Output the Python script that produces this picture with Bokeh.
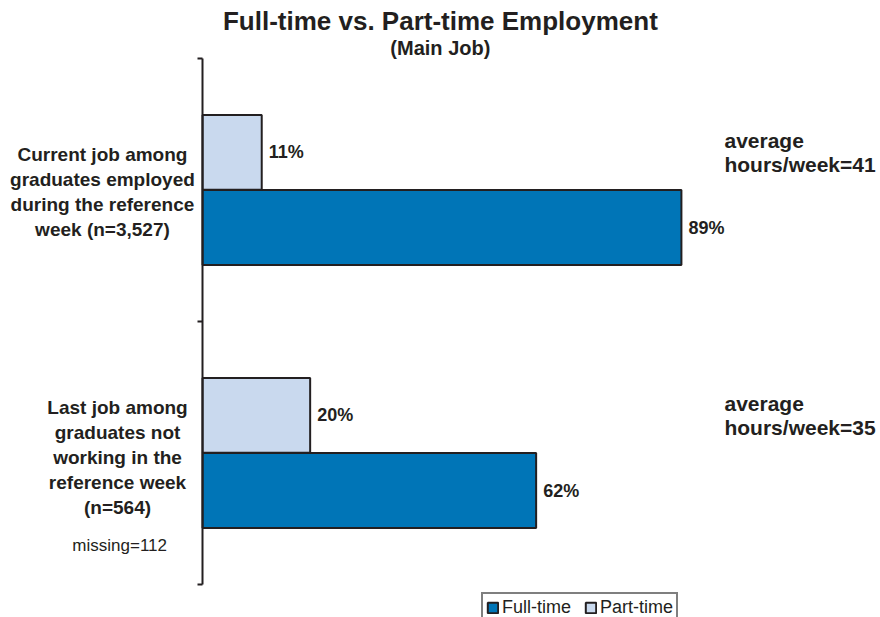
from bokeh.plotting import figure
from bokeh.models import (Range1d, LinearAxis, FixedTicker, Legend, LegendItem,
                          ColumnDataSource)
from bokeh.core.properties import value
from bokeh.embed import file_html
from bokeh.resources import INLINE

# ---------------- data ----------------
categories = [
    "Current job among\ngraduates employed\nduring the reference\nweek (n=3,527)",
    "Last job among\ngraduates not\nworking in the\nreference week\n(n=564)",
]
full_time = [89, 62]
part_time = [11, 20]
avg_hours = [41, 35]
series_names = ["Full-time", "Part-time"]
title_text = "Full-time vs. Part-time Employment"
subtitle_text = "(Main Job)"
missing_text = "missing=112"

FONT = "Liberation Sans"
C_FULL = "#0075B7"
C_PART = "#C9D9EE"
C_LINE = "#231F20"

n = len(categories)
centers = [n - i - 0.5 for i in range(n)]   # first category on top
off = 0.143
bar_h = 0.285

src_full = ColumnDataSource(dict(
    y=[c - off for c in centers], v=full_time,
    t=[f"{v}%" for v in full_time]))
src_part = ColumnDataSource(dict(
    y=[c + off for c in centers], v=part_time,
    t=[f"{v}%" for v in part_time]))
src_avg = ColumnDataSource(dict(
    y=[c + off for c in centers], x=[97.0] * n,
    t=[f"average\nhours/week={h}" for h in avg_hours]))
src_cat = ColumnDataSource(dict(
    y=[centers[0] - 0.008, centers[1] - 0.017], x=[-18.6, -15.8], t=categories))

p = figure(width=880, height=617, output_backend="svg", toolbar_location=None,
           x_range=Range1d(-37.55, 126.0), y_range=Range1d(-0.1255, 2.2205),
           x_axis_location=None, y_axis_location=None,
           min_border_left=0, min_border_right=0, min_border_top=0,
           min_border_bottom=0)
p.outline_line_color = None
p.background_fill_color = "white"
p.border_fill_color = "white"
p.grid.visible = False

ticks = list(range(n + 1))
yaxis = LinearAxis(ticker=FixedTicker(ticks=ticks), bounds=(0, n),
                   fixed_location=0,
                   major_label_overrides={t: "" for t in ticks},
                   major_label_standoff=0,
                   major_tick_out=5, major_tick_in=0,
                   minor_tick_out=0, minor_tick_in=0,
                   axis_line_width=2, axis_line_color=C_LINE,
                   major_tick_line_width=2, major_tick_line_color=C_LINE)
p.add_layout(yaxis, "left")

r_full = p.hbar(y="y", left=0, right="v", height=bar_h, source=src_full,
                fill_color=C_FULL, line_color=C_LINE, line_width=2)
r_part = p.hbar(y="y", left=0, right="v", height=bar_h, source=src_part,
                fill_color=C_PART, line_color=C_LINE, line_width=2)

for s in (src_full, src_part):
    p.text(x="v", y="y", text="t", source=s, x_offset=7, text_baseline="middle",
           text_align="left", text_font=value(FONT), text_font_style="bold",
           text_font_size="18px", text_color=C_LINE)

p.text(x="x", y="y", text="t", source=src_avg, text_baseline="middle",
       text_align="left", text_font=value(FONT), text_font_style="bold",
       text_font_size="21px", text_color=C_LINE, text_line_height=1.05)

p.text(x="x", y="y", text="t", source=src_cat, text_baseline="middle",
       text_align="center", text_font=value(FONT), text_font_style="bold",
       text_font_size="19px", text_color=C_LINE, text_line_height=1.2)

p.text(x=[-15.4], y=[0.148], text=[missing_text], text_align="center",
       text_baseline="middle", text_font=value(FONT), text_font_size="17px",
       text_color=C_LINE)

p.text(x=[44.2], y=[2.144], text=[title_text], text_align="center",
       text_baseline="middle", text_font=value(FONT), text_font_style="bold",
       text_font_size="26px", text_color=C_LINE)
p.text(x=[44.2], y=[2.038], text=[subtitle_text], text_align="center",
       text_baseline="middle", text_font=value(FONT), text_font_style="bold",
       text_font_size="20px", text_color=C_LINE)

legend = Legend(items=[LegendItem(label=series_names[0], renderers=[r_full]),
                       LegendItem(label=series_names[1], renderers=[r_part])],
                orientation="horizontal", location=(481, -6),
                border_line_color="black", border_line_width=2,
                padding=3, spacing=13, margin=0, glyph_width=13, glyph_height=13,
                label_standoff=3, label_text_font=FONT, label_text_font_size="18px",
                label_height=18, label_text_color=C_LINE, background_fill_alpha=1)
p.add_layout(legend)

open("out.html", "w").write(file_html(p, INLINE))
